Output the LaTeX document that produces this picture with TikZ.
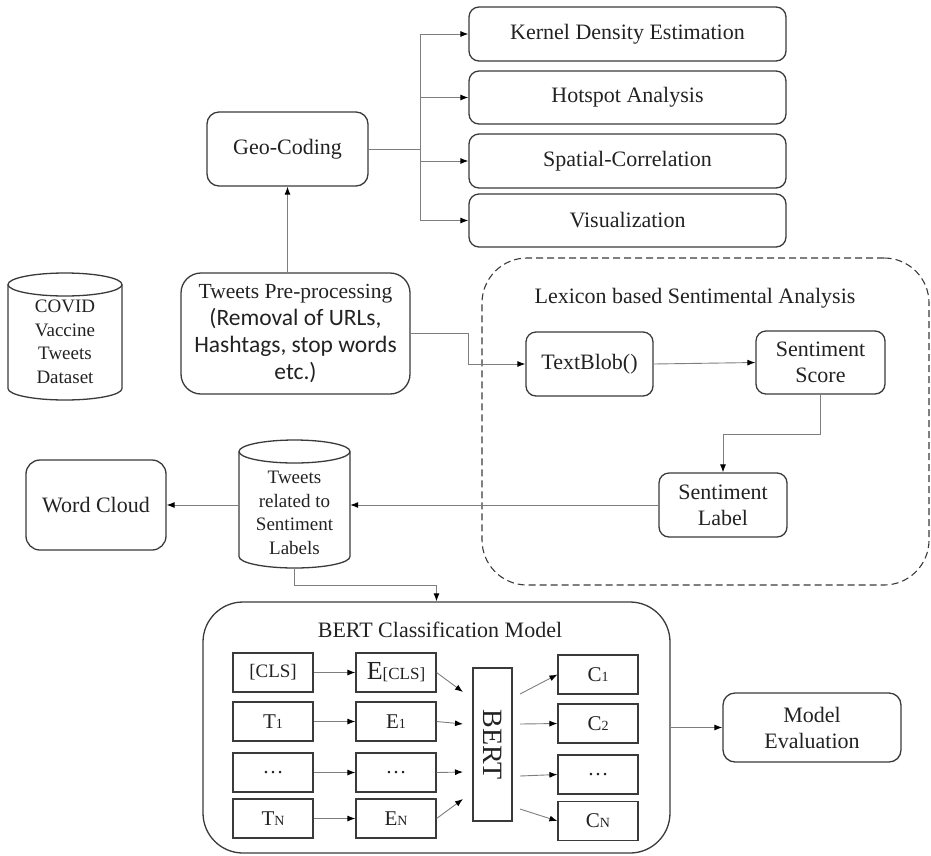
\documentclass[tikz,border=0pt]{standalone}
\usepackage{fontspec}
\setmainfont{Liberation Serif}
\newfontfamily\calfont{Carlito}
\usetikzlibrary{arrows.meta,calc}
\definecolor{bd}{HTML}{3A3A3A}
\definecolor{cn}{HTML}{7E7E7E}
\definecolor{tx}{HTML}{222222}
\newcommand\subsz[1]{{\fontsize{14}{14}\selectfont #1}}
\newcommand\calln[1]{{\calfont\fontsize{23.5}{27}\selectfont #1}}
\tikzset{
  rbox/.style={draw=bd, line width=1.3pt, rounded corners=10pt, align=center,
    inner sep=0pt, text=tx, font=\fontsize{22}{26}\selectfont},
  sbox/.style={draw=bd, line width=1.2pt, inner sep=0pt, minimum width=80pt,
    minimum height=39pt, text=tx, font=\fontsize{21}{24}\selectfont},
  conn/.style={draw=cn, line width=0.9pt},
  arr/.style={conn, -{Latex[length=8pt,width=6pt,black]}},
  cyl/.style={draw=bd, line width=1.3pt},
  txt/.style={inner sep=0pt, align=center, text=tx},
}
\begin{document}
\begin{tikzpicture}[x=1pt,y=-1pt]
\useasboundingbox (0,0) rectangle (931,855);

% ---- spatial analysis boxes
\node[rbox, minimum width=317pt, minimum height=54pt] (kde) at (627.5,34) {Kernel Density Estimation};
\node[rbox, minimum width=317pt, minimum height=53pt] (hot) at (627.5,97.5) {Hotspot Analysis};
\node[rbox, minimum width=317pt, minimum height=54pt] (spc) at (627.5,161) {Spatial-Correlation};
\node[rbox, minimum width=317pt, minimum height=53pt] (vis) at (627.5,220.5) {Visualization};
\node[rbox, minimum width=161pt, minimum height=74pt, rounded corners=12pt] (geo) at (287.5,149) {Geo-Coding};
\coordinate (br) at (420,149);
\draw[conn] (geo.east) -- (br);
\draw[arr] (br) |- (kde.west);
\draw[arr] (br) |- (hot.west);
\draw[arr] (br) |- (spc.west);
\draw[arr] (br) |- (vis.west);

% ---- dataset cylinder
\draw[cyl] (8,284.5) -- (8,388.5) arc[start angle=180,end angle=360,x radius=57pt,y radius=11.5pt] -- (122,284.5);
\draw[cyl] (65,284.5) ellipse[x radius=57pt,y radius=11.5pt];
\node[txt, font=\fontsize{19}{23.5}\selectfont] (covid) at (65,342) {COVID\\Vaccine\\Tweets\\Dataset};

% ---- pre-processing
\node[rbox, minimum width=229pt, minimum height=121pt, rounded corners=20pt, font=\fontsize{21.5}{27}\selectfont] (pre) at (295.5,333.5)
  {Tweets Pre-processing\\\calln{(Removal of URLs,}\\\calln{Hashtags, stop words}\\\calln{etc.)}};
\draw[arr] (pre.north -| geo.south) -- (geo.south);

% ---- lexicon region
\node[draw=bd, dash pattern=on 7pt off 4pt, line width=1.1pt, rounded corners=45pt,
  minimum width=447pt, minimum height=327pt, inner sep=0pt] (lexbox) at (705.5,421.5) {};
\node[txt, font=\fontsize{22}{26}\selectfont] (lex) at (695,298) {Lexicon based Sentimental Analysis};
\node[rbox, minimum width=127pt, minimum height=64pt] (tb) at (589.5,364) {TextBlob()};
\node[rbox, minimum width=129pt, minimum height=63pt] (sc) at (820.5,362.5) {Sentiment\\Score};
\node[rbox, minimum width=128pt, minimum height=64pt] (lab) at (723,505) {Sentiment\\Label};
\draw[arr] (pre.east) -- ++(58,0) |- (tb.west);
\draw[arr] (tb.east) -- (sc.west);
\draw[arr] (sc.south) -- ++(0,40) -| (lab.north);

% ---- tweets cylinder
\node[inner sep=0pt, minimum width=111pt, minimum height=128pt] (tw) at (294.5,504) {};
\draw[cyl] (239,451.5) -- (239,556.5) arc[start angle=180,end angle=360,x radius=55.5pt,y radius=11.5pt] -- (350,451.5);
\draw[cyl] (294.5,451.5) ellipse[x radius=55.5pt,y radius=11.5pt];
\node[txt, font=\fontsize{19}{23.5}\selectfont] (twt) at (294.5,513) {Tweets\\related to\\Sentiment\\Labels};
\node[rbox, minimum width=140pt, minimum height=90pt, rounded corners=14pt] (wc) at (96,505) {Word Cloud};
\draw[arr] (lab.west) -- (lab.west -| tw.east);
\draw[arr] (tw.west |- wc.east) -- (wc.east);

% ---- BERT model
\node[rbox, minimum width=467pt, minimum height=251pt, rounded corners=40pt] (bm) at (436.5,727.5) {};
\node[txt, font=\fontsize{22}{26}\selectfont] (bmt) at (440,630) {BERT Classification Model};
\draw[arr] (tw.south) -- ++(0,17) -| (bm.north);

\node[sbox, font=\fontsize{19}{22}\selectfont] (cls) at (273,672.5) {[CLS]};
\node[sbox] (t1) at (273,721.5) {T\subsz{1}};
\node[sbox] (td) at (273,772.5) {\dots};
\node[sbox] (tn) at (273,818.5) {T\subsz{N}};
\node[sbox] (ecls) at (396,672.5) {{\fontsize{26}{26}\selectfont E}{\fontsize{17}{17}\selectfont [CLS]}};
\node[sbox] (e1) at (396,721.5) {E\subsz{1}};
\node[sbox] (ed) at (396,772.5) {\dots};
\node[sbox] (en) at (396,818.5) {E\subsz{N}};
\node[draw=bd, line width=1.2pt, inner sep=0pt, rotate=-90, minimum width=153pt, minimum height=39pt,
  text=tx, font=\fontsize{28}{28}\selectfont] (bert) at (492.5,744.5) {BERT};
\node[sbox] (c1) at (598,674.5) {C\subsz{1}};
\node[sbox] (c2) at (598,723.5) {C\subsz{2}};
\node[sbox] (cd) at (598,774.5) {\dots};
\node[sbox] (cN) at (598,821) {C\subsz{N}};

\draw[arr] (cls) -- (ecls);
\draw[arr] (t1) -- (e1);
\draw[arr] (td) -- (ed);
\draw[arr] (tn) -- (en);

\coordinate (bi1) at (463,692);
\coordinate (bi2) at (463,724);
\coordinate (bi3) at (463,772);
\coordinate (bi4) at (463,799);
\draw[arr] (ecls.east) -- (bi1);
\draw[arr] (e1.east) -- (bi2);
\draw[arr] (ed.east) -- (bi3);
\draw[arr] (en.east) -- (bi4);

\coordinate (bo1) at (520,694);
\coordinate (bo2) at (520,724);
\coordinate (bo3) at (520,776);
\coordinate (bo4) at (520,809);
\draw[arr] (bo1) -- (c1.west);
\draw[arr] (bo2) -- (c2.west);
\draw[arr] (bo3) -- (cd.west);
\draw[arr] (bo4) -- (cN.west);

% ---- evaluation
\node[rbox, minimum width=178pt, minimum height=69pt, rounded corners=12pt] (me) at (812,727.5) {Model\\Evaluation};
\draw[arr] (bm.east) -- (me.west);
\end{tikzpicture}
\end{document}
